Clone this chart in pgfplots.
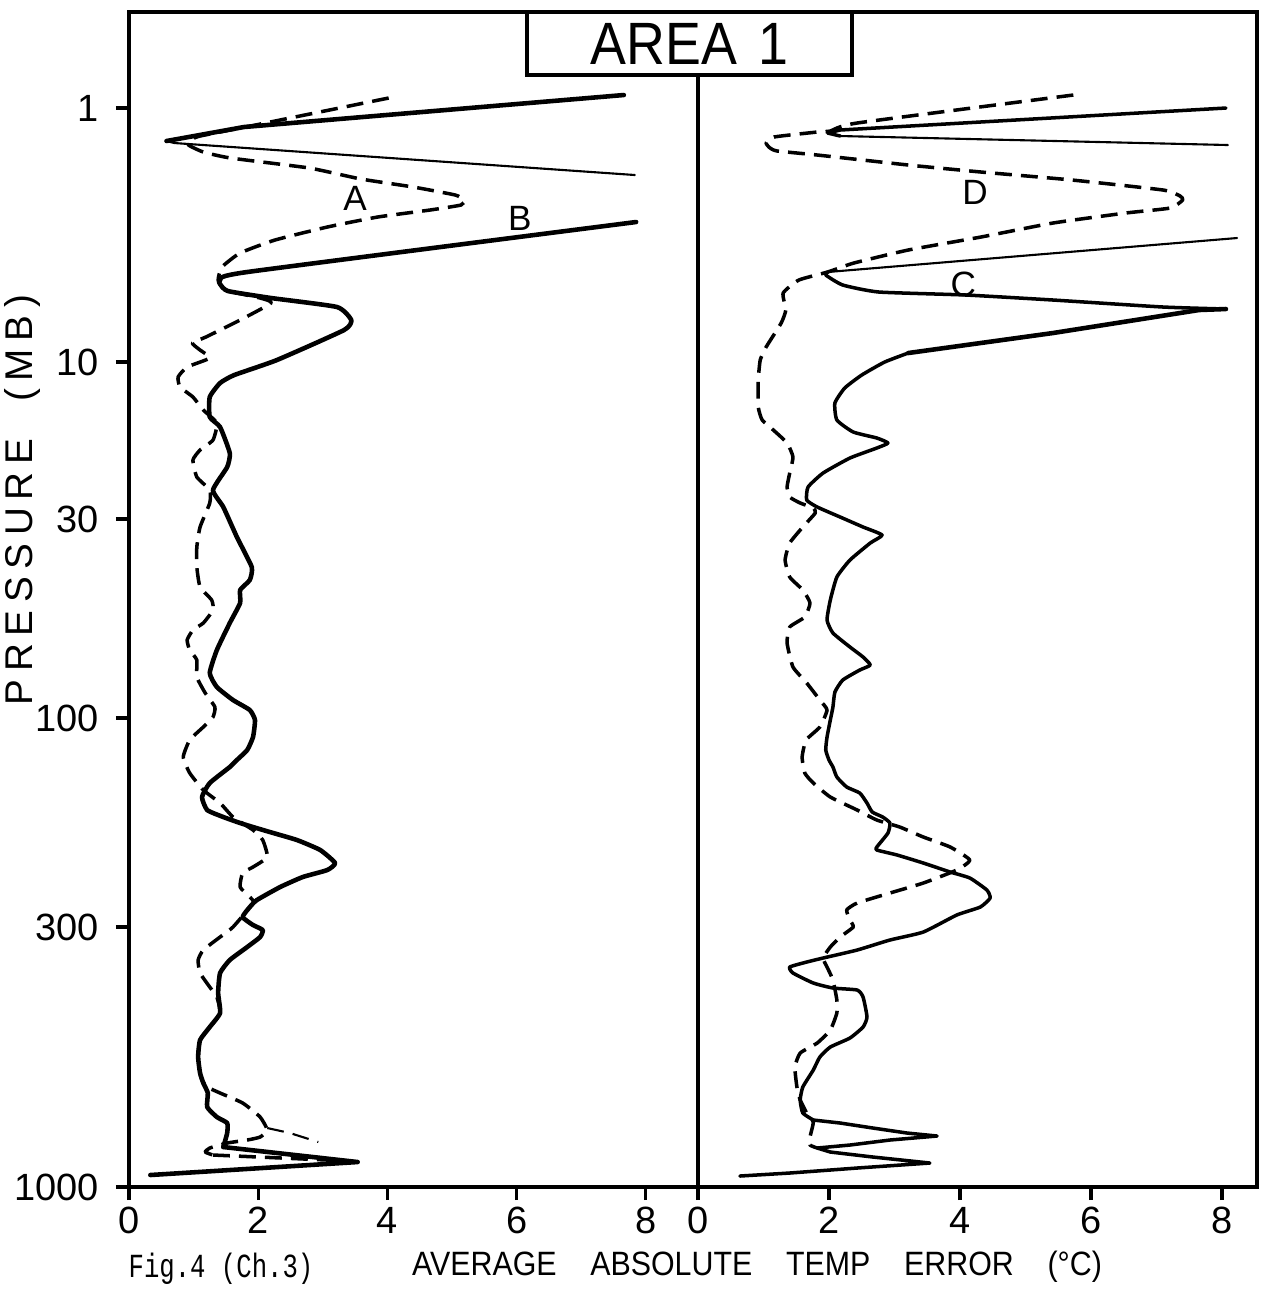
\documentclass[border=0pt]{standalone}
\usepackage{pgfplots}
\pgfplotsset{compat=1.18}
\usepackage{fontspec}
\setmainfont{Liberation Sans}
\newfontfamily\monofont[FakeStretch=0.76]{Liberation Mono}
\newfontfamily\spacedfont[LetterSpace=20]{Liberation Sans}
\newfontfamily\narrowfont[FakeStretch=0.9]{Liberation Sans}
\tikzset{lbl/.style={font=\fontsize{10}{11}\selectfont}}

\begin{document}
\begin{tikzpicture}
\useasboundingbox (0,0) rectangle (12.71,-12.90);
\pgfplotsset{
  panel/.style={
    scale only axis, height=11.75cm,
    ymin=12, ymax=1187, y dir=reverse,
    axis line style={line width=0.9pt},
    tick style={line width=0.9pt, black},
    tick align=outside, major tick length=0.13cm,
    xtick pos=bottom,
    xtick={0,2,4,6,8}, xticklabels={0,2,4,6,8},
    ticklabel style={font=\fontsize{10.8}{12}\selectfont},
    xticklabel style={yshift=0.05cm},
  },
  thk/.style={black, line width=1.3pt, line join=round, line cap=round},
  med/.style={black, line width=1.0pt, line join=round, line cap=round},
  thn/.style={black, line width=0.6pt, line join=round, line cap=round},
  dsh/.style={black, line width=1.0pt, line join=round, dash pattern=on 4.8pt off 2.6pt},
  dshthin/.style={black, line width=0.6pt, line join=round, dash pattern=on 4.8pt off 2.6pt},
  sm/.style={smooth, tension=0.3},
}
% ---------------- left panel ----------------
\begin{axis}[panel, at={(1.29cm,-11.87cm)}, anchor=south west,
  width=5.69cm, xmin=0, xmax=8.808,
  ytick={108,362,519,718,927,1187}, yticklabels={1,10,30,100,300,1000},
  ytick pos=left, yticklabel style={xshift=-0.05cm}]
% B upper off-scale pieces
\addplot[thk, sharp plot] coordinates {(7.66,95) (1.78,127) (0.58,141)};
\addplot[thn, sharp plot] coordinates {(0.58,141) (0.70,143) (7.83,175)};
% B main
\addplot[thk, sm] coordinates {
(7.85,222) (1.83,272) (1.41,280) (1.41,284) (1.53,291) (2.20,298) (3.22,307) (3.44,320)
(3.33,330) (2.29,360) (1.63,375) (1.41,383) (1.25,397) (1.25,417) (1.41,427) (1.56,453)
(1.52,467) (1.30,490) (1.46,507) (1.67,537) (1.90,567) (1.87,580) (1.72,590) (1.72,603)
(1.56,623) (1.36,650) (1.25,673) (1.36,687) (1.61,700) (1.87,710) (1.95,720) (1.92,737)
(1.83,750) (1.67,760) (1.56,767) (1.25,783) (1.13,797) (1.21,810) (1.46,817) (1.72,823)
(1.92,827) (2.18,832) (2.60,840) (2.96,850) (3.19,863) (3.07,870) (2.69,877) (2.34,887)
(1.98,900) (1.87,907) (1.76,917) (1.92,925) (2.07,930) (2.03,937) (1.83,947) (1.56,960)
(1.41,973) (1.38,993) (1.41,1013) (1.25,1027) (1.10,1040) (1.07,1057) (1.10,1073) (1.15,1083)
(1.22,1093) (1.21,1107) (1.36,1117) (1.52,1123) (1.52,1133) (1.46,1147)};
\addplot[thk, sharp plot] coordinates {(1.46,1147) (3.54,1162) (0.33,1175)};
% A dashed
\addplot[dsh, sm] coordinates {
(4.02,98) (1.88,126) (1.10,136) (0.95,140) (0.92,145) (1.15,152) (1.57,158) (2.79,168)
(3.59,179) (4.40,187) (5.05,195) (5.19,200) (5.14,205) (4.66,210) (3.85,217) (3.07,227)
(2.26,240) (1.72,253) (1.44,267) (1.38,280) (1.49,290) (2.03,298) (2.20,303) (1.72,320)
(1.19,337) (0.98,343) (1.10,350) (1.25,358) (0.90,367) (0.76,377) (0.79,387) (0.99,397)
(1.15,410) (1.36,423) (1.30,440) (1.10,450) (0.99,460) (1.05,477) (1.25,490) (1.25,503)
(1.10,527) (1.05,547) (1.05,567) (1.10,587) (1.28,600) (1.30,610) (1.15,623) (0.99,630)
(0.90,640) (0.94,650) (1.05,660) (1.05,677) (1.18,693) (1.33,707) (1.30,717) (1.15,727)
(0.94,740) (0.84,757) (0.94,773) (1.15,790) (1.41,803) (1.61,817) (1.92,830) (2.07,840)
(2.14,857) (1.92,867) (1.76,873) (1.72,887) (1.87,897) (1.92,903) (1.61,927) (1.41,937)
(1.15,950) (1.07,960) (1.10,973) (1.25,987) (1.36,997) (1.41,1013) (1.25,1027) (1.10,1040)
(1.07,1057) (1.10,1073) (1.13,1080) (1.21,1087) (1.41,1093) (1.76,1103) (2.03,1117) (2.14,1130)
(2.03,1137) (1.83,1140) (1.52,1143) (1.25,1148) (1.18,1152) (1.30,1155)};
\addplot[dsh, sharp plot] coordinates {(1.30,1155) (3.42,1161)};
\addplot[dshthin, sharp plot] coordinates {(2.14,1128) (2.49,1133) (2.93,1142)};
\node[lbl] at (axis cs:3.50,198) {A};
\node[lbl] at (axis cs:6.05,218) {B};
\end{axis}
% ---------------- right panel ----------------
\begin{axis}[panel, at={(6.98cm,-11.87cm)}, anchor=south west,
  width=5.59cm, xmin=0, xmax=8.534, ytick=\empty]
\addplot[med, sharp plot] coordinates {(8.06,108) (2.17,130) (1.98,133) (2.17,136)};
\addplot[thn, sharp plot] coordinates {(2.17,136) (8.09,145)};
\addplot[thn, sharp plot] coordinates {(8.23,238) (1.98,272)};
\addplot[med, sm] coordinates {
(1.98,272) (1.95,275) (2.21,285) (2.76,292) (4.09,295) (5.42,300) (7.10,307) (8.06,309)};
\addplot[thk, sharp plot] coordinates {(8.06,309) (7.65,310) (5.42,333) (3.21,353)};
\addplot[med, sm] coordinates {
(3.21,353) (2.85,362) (2.50,375) (2.24,388) (2.09,403) (2.12,420) (2.37,432) (2.73,438)
(2.90,443) (2.73,448) (2.32,458) (1.91,473) (1.68,487) (1.66,500) (1.82,507) (2.17,517)
(2.52,527) (2.81,535) (2.63,543) (2.32,560) (2.12,577) (2.02,600) (1.97,620) (2.06,633)
(2.32,647) (2.52,657) (2.63,665) (2.47,670) (2.21,680) (2.09,692) (2.06,707) (2.02,720)
(1.97,737) (1.95,750) (2.00,760) (2.06,767) (2.12,777) (2.27,787) (2.47,793) (2.58,803)
(2.66,812) (2.82,817) (2.93,823) (2.90,833) (2.73,847) (2.73,850) (3.04,855) (3.44,863)
(3.85,872) (4.15,878) (4.41,890) (4.46,898) (4.31,907) (3.95,915) (3.44,932) (2.93,940)
(2.43,950) (1.91,958) (1.66,962) (1.40,967) (1.45,973) (1.76,983) (2.06,988) (2.43,990)
(2.52,997) (2.58,1017) (2.52,1027) (2.32,1038) (2.02,1047) (1.86,1057) (1.76,1070) (1.60,1087)
(1.56,1100) (1.60,1113) (1.76,1120)};
\addplot[med, sharp plot] coordinates {
(1.76,1120) (2.17,1123) (2.67,1128) (3.19,1133) (3.65,1136) (2.93,1140) (2.32,1145) (1.82,1148)
(2.02,1152) (2.67,1157) (3.54,1163) (2.43,1168) (1.40,1173) (0.64,1176)};
% D dashed
\addplot[dsh, sm] coordinates {
(5.73,95) (2.43,123) (2.02,131) (1.82,132) (1.16,137) (1.04,143) (1.10,148) (1.21,151)
(1.82,155) (3.21,165) (4.32,172) (5.71,180) (7.10,190) (7.36,196) (7.40,200) (7.21,208)
(6.53,213) (5.42,223) (4.32,237) (3.21,250) (2.38,263) (1.98,272) (1.54,280) (1.30,293)
(1.34,310) (1.27,323) (1.04,347) (0.95,360) (0.92,380) (0.92,407) (0.98,420) (1.15,430)
(1.36,443) (1.45,457) (1.40,473) (1.36,487) (1.40,497) (1.56,503) (1.76,508) (1.79,513)
(1.60,527) (1.40,543) (1.33,560) (1.40,577) (1.60,590) (1.71,603) (1.63,617) (1.40,627)
(1.36,643) (1.45,667) (1.66,683) (1.86,700) (1.97,710) (1.86,727) (1.65,740) (1.59,757)
(1.63,773) (1.76,783) (2.02,797) (2.43,810) (2.73,820) (3.08,827) (3.44,837) (3.85,847)
(4.15,860) (3.95,870) (3.44,883) (2.93,893) (2.43,903) (2.27,910) (2.32,920) (2.37,927)
(2.17,937) (2.02,947) (1.91,958) (1.97,967) (2.06,980) (2.12,1000) (2.12,1013) (2.02,1030)
(1.82,1043) (1.56,1053) (1.48,1067) (1.51,1087) (1.56,1100) (1.66,1113) (1.76,1122) (1.71,1137)
(1.71,1145) (1.82,1148)};
\node[lbl] at (axis cs:4.23,192) {D};
\node[lbl] at (axis cs:4.05,284) {C};
\end{axis}
% title box
\node[draw, line width=0.9pt, fill=white, minimum width=3.25cm, minimum height=0.63cm,
  inner sep=0pt, font=\fontsize{17}{18}\narrowfont] at (6.895,-0.435) {AREA\hspace{0.35em}1};
% axis titles
\node[rotate=90, font=\fontsize{11}{12}\spacedfont] at (0.22,-5.0) {PRESSURE\ \ (MB)};
\node[anchor=base, font=\fontsize{9.6}{10}\narrowfont] at (7.57,-12.75)
  {AVERAGE\hspace{1.0em}ABSOLUTE\hspace{1.0em}TEMP\hspace{1.0em}ERROR\hspace{1.0em}(°C)};
\node[anchor=base, font=\fontsize{9.6}{11}\monofont] at (2.21,-12.77) {Fig.4 (Ch.3)};
\end{tikzpicture}
\end{document}
